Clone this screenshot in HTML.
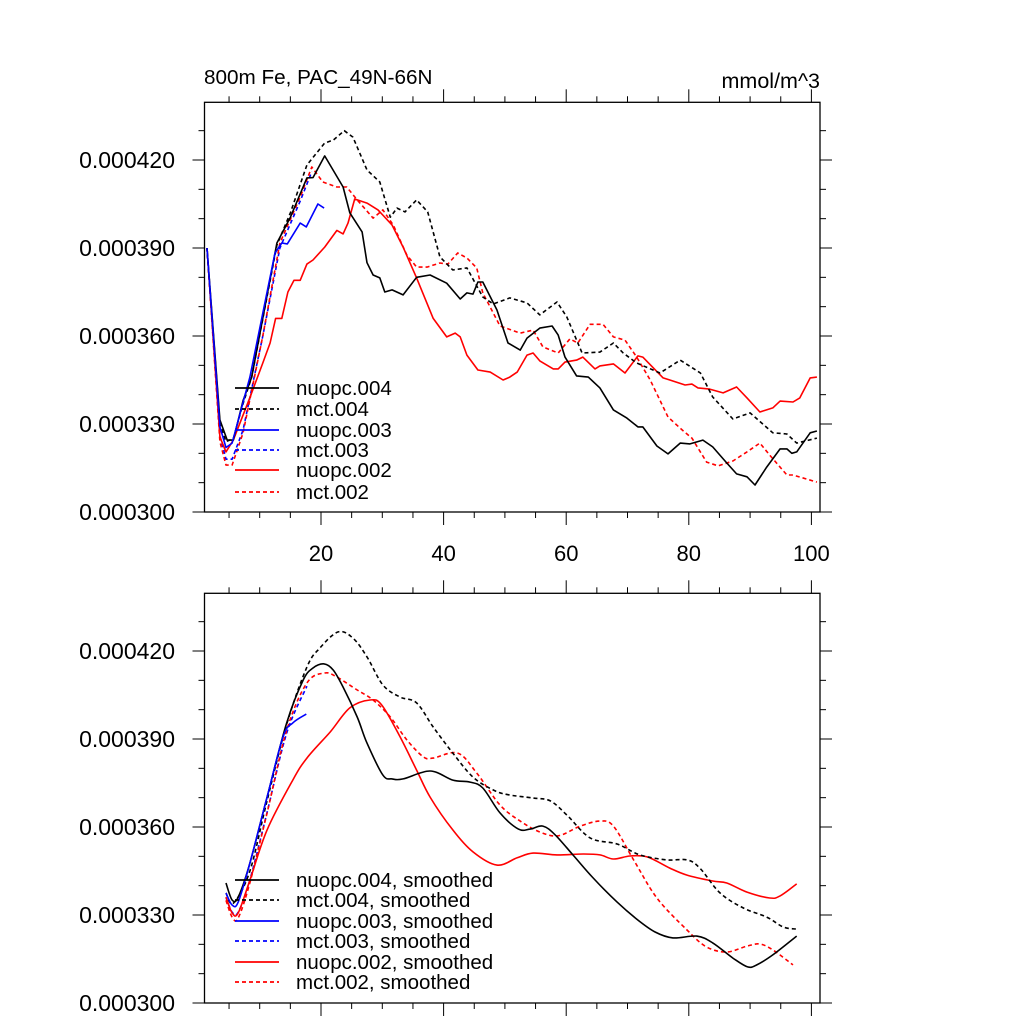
<!DOCTYPE html>
<html><head><meta charset="utf-8"><style>
html,body{margin:0;padding:0;background:#fff;}
svg{display:block;font-family:"Liberation Sans",sans-serif;}
</style></head><body>
<svg id="chart" width="1024" height="1024" viewBox="0 0 1024 1024" xmlns="http://www.w3.org/2000/svg">
<text x="204" y="84" font-size="20.7">800m Fe, PAC_49N-66N</text>
<text x="820" y="88" font-size="21.5" text-anchor="end">mmol/m^3</text>
<g id="top"></g><g id="bot"></g>
</svg>
<script>
const yTicks=[300,330,360,390,420];
const yTickLabels=["0.000300","0.000330","0.000360","0.000390","0.000420"];
const xTicks=[20,40,60,80,100];
const xTickLabels=["20","40","60","80","100"];
// top panel (values in 1e-6 mmol/m^3)
const t_nuopc004_x=[1.4,3.5,4.7,5.7,7.3,8.7,12.8,15,17.7,18.7,20.6,23.6,24.7,26.7,27.5,28.5,29.6,30.4,31.6,33.4,35.6,37.8,40.5,42.7,43.8,44.8,45.6,46.4,48.7,50.5,52.5,53.6,55.7,57.7,58.7,59.8,61.7,63.6,65.5,67.7,69.9,71.7,72.5,74.8,76.6,78.6,80.2,82.3,83.9,86.2,87.8,89.5,90.8,92.7,94.9,96,96.8,97.6,99.8,100.9];
const t_nuopc004_v=[390,331.4,324.5,324.5,338,346,391.7,400.5,413.9,414,421.4,410.8,402,395.5,385,380.8,379.8,375,375.7,374,380,380.8,378,372.6,374.7,374.3,378.4,378.4,368.9,357.6,355.2,359.3,362.7,363.4,360.3,352.8,346.4,346,342.3,334.8,332,329,329,322.5,319.8,323.5,323.2,324.5,322.2,316.7,313,312,309.2,315.3,321.5,321.5,320,320.5,327,327.6];
const t_mct004_x=[1.4,3.5,4.5,5.7,7.3,8.7,12.8,15,17.7,20.6,22,23.8,25.2,27.5,29.6,31.3,32.4,33.7,35.6,37.4,39.4,41.5,43.8,46.4,48.1,50.8,53.6,55.7,58.5,60.1,62.6,65.5,67.7,69.3,71.5,75.3,78.6,81.9,83.9,87.2,90,93.7,96,97.6,100.9];
const t_mct004_v=[390,330,324,325,337,346,391,402,418.3,425.8,426.8,430,427.8,416.6,412.5,400.5,403.6,402.3,406.4,402.3,387,382.5,383.2,373.3,370.9,373,371.3,367.2,371.6,366.5,354.2,354.5,357.6,354.2,350.8,347.4,351.8,347.4,339.2,331.7,333.8,327,326.6,323.5,325.2];
const t_nuopc003_x=[1.4,3.5,4.5,5.5,8.4,10.5,12.5,13.6,14.5,16.6,17.6,19.5,20.5];
const t_nuopc003_v=[390,329,322,323.5,346,367.8,388.3,391.7,391.4,398.5,397.2,405,403.6];
const t_mct003_x=[1.4,3.5,4.5,5.5,7.3,10.5,13.3,16.6,18.5];
const t_mct003_v=[390,326,318,318,328,360,390,406,416];
const t_nuopc002_x=[1.4,3.5,4.5,5.7,8.4,10.5,11.7,12.6,13.6,14.6,15.6,16.6,17.7,18.7,20.6,22.6,23.6,24.4,25.5,27.5,29.3,31.6,33.4,35.6,38.3,40.5,41.9,42.7,43.8,45.6,47.6,49.7,50.8,52,53.6,54.6,55.7,57.9,58.7,59.8,61.7,62.7,64.7,65.5,67.7,69.6,71.7,72.5,75.8,76.9,79.4,80.5,81.5,83.4,85.6,87.8,89.5,91.6,93.7,94.9,97,98.1,99.8,100.9];
const t_nuopc002_v=[390,325.6,320.5,324.5,339,350.8,357.6,366,366,375,379,379,384.5,385.9,390.3,396,394.8,398.5,406.7,405.3,403,397.8,390.3,379.8,366,359.7,361,359.7,353.5,348.4,347.7,345,346,347.7,353.5,354.2,351.5,348.8,348.8,351.1,351.8,352.8,348.8,349.8,350.5,347.4,353.2,352.8,345.7,345,343.3,343.6,342.3,341.9,340.6,342.6,338.9,334.1,335.5,337.8,337.5,338.9,345.7,346];
const t_mct002_x=[1.4,3.5,4.5,5.5,7.3,10.5,13.3,16.6,18.5,20.3,22.6,24.2,25.9,28.5,30.1,31.8,34,35.6,37.3,39.4,40.7,42.3,43.8,45.4,46.4,49.2,52.5,54.6,56.2,58.7,60.6,61.9,63.9,66,67.7,69.6,71.5,73.7,76.6,78.9,80.5,82.9,84.8,87.2,89.5,91.6,93.2,96,97,100.9];
const t_mct002_v=[390,324,316,316,327,360,391.7,407.4,417.6,412.5,410.8,410.8,406.4,400.2,403,397.8,387.6,383.5,383.5,384.9,384.5,388.3,386.6,383.2,374.7,363.4,361,362,356.3,354.2,359,357.6,364,364,359.7,358.6,352.8,345,332.4,328,325.2,317,315.7,317.4,320.5,323.5,319.4,312.6,312.6,310.2];
// bottom panel (smoothed)
const b_nuopc004_x=[4.5,5.5,6.5,8.4,11.2,14.4,17.1,18.7,20.5,22,23.6,25.9,27.5,30.1,31.6,33.4,37.8,41.5,44.3,46.4,49.2,52.2,54.1,56.2,58.2,61.1,64.4,68.3,71.5,74.5,77.4,81.3,83.9,87.2,89.6,91.1,93.7,97.6];
const b_nuopc004_v=[340.9,335.1,336.1,347.7,370.2,395.5,410.1,414.2,415.6,413.5,407.7,397.5,388.6,377.7,376.4,376.4,379.1,376,375.3,373.3,364.8,359.3,359.3,360.3,357.3,350.5,342.6,334.4,328.6,324.2,322.2,322.8,320.5,315.3,312.3,313,316.4,322.8];
const b_mct004_x=[4.5,5.7,8.4,11.2,14.4,17.7,19.8,22.8,25.2,27.5,30.1,32.9,35.6,38.3,41.5,44.8,48.1,50.5,54.6,57.4,60.1,63.9,68.3,72,76.4,79.7,81.8,85.1,88.9,92.7,95.4,97.6];
const b_mct004_v=[337.5,334,345,369,395,414.5,421,426.5,424.4,418,408.4,404.3,402.3,394.1,385.2,377,372.6,371,369.9,368.9,364.1,356.3,354.2,350.5,348.8,348.8,346,337.5,332.4,329.3,325.9,325.2];
const b_nuopc003_x=[4.5,5.5,6.5,8.4,11.2,13.8,15.4,17.6];
const b_nuopc003_v=[337.5,333.4,334.4,347.7,370.2,390.7,395.5,398.5];
const b_mct003_x=[4.5,5.5,6.5,8.4,11.2,14.4,17.7];
const b_mct003_v=[336,331,331,342,365,392,408];
const b_nuopc002_x=[4.5,5.5,6.5,8.4,11.2,15.4,17.7,21.5,24.7,28,29.9,32.9,35.6,37.8,41.5,44.8,48.7,52,54.6,58.5,62.8,65.5,67.7,70.4,73.2,76.9,79.7,83.9,86.2,89.5,93.2,94.9,97.6];
const b_nuopc002_v=[336.1,330.7,330.7,341.9,359,376,383.5,392.4,400.6,403.3,401.6,390.7,379.4,370.2,359,351.5,347,349.5,351.1,350.5,350.8,350.5,349.1,350.1,349.8,346,343.6,341.6,340.9,337.8,335.8,336.5,340.6];
const b_mct002_x=[4.5,5.5,6.5,8.4,11.2,14.4,17.7,20.6,22.6,25.9,28.5,31.3,34,36.7,38.3,42.3,45.4,49.2,52.5,55.7,58.7,62.3,65.5,67.7,71,74.8,79.7,82.9,86.2,89.5,91.6,93.7,97];
const b_mct002_v=[335,329.3,329,341,364.8,393,409.1,412.5,411.1,406.7,403.3,397.5,389.7,383.9,383.5,385.2,378.4,367.5,362,358.3,357,360.3,362,360.3,348.8,335.8,324.9,319.1,317.4,319.4,320.1,318.1,313];

const NS="http://www.w3.org/2000/svg";
const X0=198.4, XS=6.13;
const sx=x=>X0+x*XS;
function mk(tag,attrs,parent){const e=document.createElementNS(NS,tag);for(const k in attrs)e.setAttribute(k,attrs[k]);parent.appendChild(e);return e;}
const LEFT=204.5,RIGHT=820;
function panel(g,top,bottom,showX){
  const sy=v=>bottom-(v-300)/30*88;
  const fr=mk('rect',{x:LEFT,y:top,width:RIGHT-LEFT,height:bottom-top,fill:'none',stroke:'#000','stroke-width':1.3},g);
  
  
  for(let v=300;v<=440;v+=10){const y=sy(v);if(y<top-0.5)continue;const maj=v%30===0;const L=maj?12:6;
    const t1=mk('line',{x1:LEFT-L,x2:LEFT,y1:y,y2:y,stroke:'#000','stroke-width':1},g);
    
    
    const t2=mk('line',{x1:RIGHT,x2:RIGHT+L,y1:y,y2:y,stroke:'#000','stroke-width':1},g);
    
    }
  yTicks.forEach((v,i)=>{const t=mk('text',{x:175,y:sy(v)+8,'font-size':23,'text-anchor':'end'},g);t.textContent=yTickLabels[i];
    
    });
  for(let x=5;x<=100;x+=5){const px=sx(x);const maj=x%20===0;const L=maj?13:6;
    const a=mk('line',{x1:px,x2:px,y1:top-L,y2:top,stroke:'#000','stroke-width':1},g);
    
    
    const b=mk('line',{x1:px,x2:px,y1:bottom,y2:bottom+L,stroke:'#000','stroke-width':1},g);
    
    }
  if(showX)xTicks.forEach((x,i)=>{const t=mk('text',{x:sx(x),y:bottom+49,'font-size':22,'text-anchor':'middle'},g);t.textContent=xTickLabels[i];
    
    });
  return sy;
}
function polyline(g,xs,vs,sy,col,dash,name){
  const p=mk('polyline',{points:xs.map((x,i)=>sx(x).toFixed(1)+','+sy(vs[i]).toFixed(1)).join(' '),fill:'none',stroke:col,'stroke-width':1.6,'stroke-dasharray':dash?'4,3':'none','stroke-linejoin':'round'},g);
  
  
}
function smooth(g,xs,vs,sy,col,dash,name){
  const P=xs.map((x,i)=>[sx(x),sy(vs[i])]);let d='M'+P[0][0]+','+P[0][1];
  for(let i=0;i<P.length-1;i++){const p0=P[Math.max(0,i-1)],p1=P[i],p2=P[i+1],p3=P[Math.min(P.length-1,i+2)];
    const c1=[p1[0]+(p2[0]-p0[0])/6,p1[1]+(p2[1]-p0[1])/6],c2=[p2[0]-(p3[0]-p1[0])/6,p2[1]-(p3[1]-p1[1])/6];
    d+=` C${c1[0].toFixed(1)},${c1[1].toFixed(1)} ${c2[0].toFixed(1)},${c2[1].toFixed(1)} ${p2[0].toFixed(1)},${p2[1].toFixed(1)}`;}
  const p=mk('path',{d:d,fill:'none',stroke:col,'stroke-width':1.6,'stroke-dasharray':dash?'4,3':'none'},g);
  
  
}
function legend(g,rows,labels){
  const cols=[['#000',0],['#000',1],['#0000ff',0],['#0000ff',1],['#ff0000',0],['#ff0000',1]];
  labels.forEach((lab,i)=>{const y=rows[i];
    const l=mk('line',{x1:235,x2:279,y1:y,y2:y,stroke:cols[i][0],'stroke-width':1.8,'stroke-dasharray':cols[i][1]?'4,3':'none'},g);
    
    
    const t=mk('text',{x:296,y:y+7,'font-size':20.5},g);t.textContent=lab;
    
    });
}
const gt=document.getElementById('top'),gb=document.getElementById('bot');
const syT=panel(gt,102.3,512,true);
polyline(gt,t_mct003_x,t_mct003_v,syT,'#0000ff',1,'mct003-line');
polyline(gt,t_mct002_x,t_mct002_v,syT,'#ff0000',1,'mct002-line');
polyline(gt,t_nuopc002_x,t_nuopc002_v,syT,'#ff0000',0,'nuopc002-line');
polyline(gt,t_mct004_x,t_mct004_v,syT,'#000',1,'mct004-line');
polyline(gt,t_nuopc004_x,t_nuopc004_v,syT,'#000',0,'nuopc004-line');
polyline(gt,t_nuopc003_x,t_nuopc003_v,syT,'#0000ff',0,'nuopc003-line');
legend(gt,[388,409,430,450,470,492],["nuopc.004","mct.004","nuopc.003","mct.003","nuopc.002","mct.002"]);
const syB=panel(gb,593.3,1003,false);
smooth(gb,b_mct003_x,b_mct003_v,syB,'#0000ff',1,'mct003-smoothed');
smooth(gb,b_mct002_x,b_mct002_v,syB,'#ff0000',1,'mct002-smoothed');
smooth(gb,b_nuopc002_x,b_nuopc002_v,syB,'#ff0000',0,'nuopc002-smoothed');
smooth(gb,b_mct004_x,b_mct004_v,syB,'#000',1,'mct004-smoothed');
smooth(gb,b_nuopc004_x,b_nuopc004_v,syB,'#000',0,'nuopc004-smoothed');
smooth(gb,b_nuopc003_x,b_nuopc003_v,syB,'#0000ff',0,'nuopc003-smoothed');
legend(gb,[880,900,921,941,962,982],["nuopc.004, smoothed","mct.004, smoothed","nuopc.003, smoothed","mct.003, smoothed","nuopc.002, smoothed","mct.002, smoothed"]);
</script>
</body></html>
